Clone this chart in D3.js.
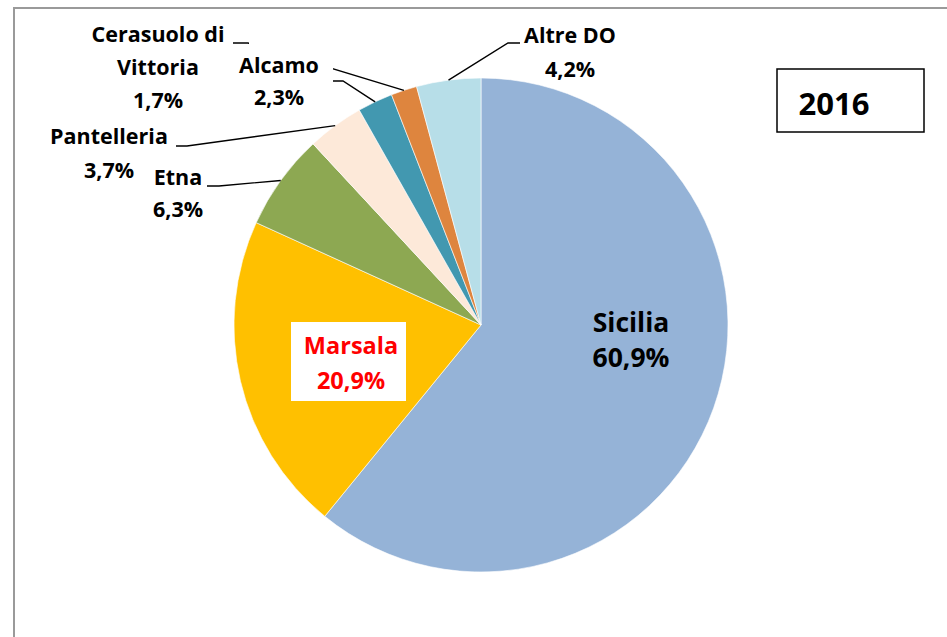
<!DOCTYPE html>
<html>
<head>
<meta charset="utf-8">
<script src="https://cdn.jsdelivr.net/npm/d3@7"></script>
<style>
  body { margin: 0; background: #fff; }
  svg text { font-family: "Open Sans", Lato, sans-serif; font-weight: bold; }
</style>
</head>
<body>
<svg id="pie"></svg>
<script>
// data
var categories = ["Sicilia", "Marsala", "Etna", "Pantelleria", "Alcamo", "Cerasuolo di Vittoria", "Altre DO"];
var values = [60.9, 20.9, 6.3, 3.7, 2.3, 1.7, 4.2];
var labelLines = [["Sicilia"], ["Marsala"], ["Etna"], ["Pantelleria"], ["Alcamo"], ["Cerasuolo di", "Vittoria"], ["Altre DO"]];
var sliceColors = ["#95b3d7", "#ffc000", "#8da852", "#fde9d9", "#4298b0", "#de853e", "#b7dee8"];
var yearLabel = "2016";

var width = 947, height = 637;
var cx = 481, cy = 325, radius = 247;

var svg = d3.select("#pie")
    .attr("width", width)
    .attr("height", height);

// chart frame (runs off the right and bottom edge)
svg.append("rect")
    .attr("x", 14).attr("y", 8)
    .attr("width", 960).attr("height", 660)
    .style("fill", "none")
    .style("stroke", "#9a9a9a")
    .style("stroke-width", 2);

var g = svg.append("g")
    .attr("transform", "translate(" + cx + "," + cy + ")");

var pie = d3.pie().sort(null).value(function(d) { return d; });
var arcs = pie(values);

var arc = d3.arc().innerRadius(0).outerRadius(radius);

g.selectAll("path.slice")
    .data(arcs)
    .enter().append("path")
    .attr("class", "slice")
    .attr("d", arc)
    .style("fill", function(d, i) { return sliceColors[i]; })
    .style("stroke", "#fff")
    .style("stroke-width", 0.6);

var fmt = function(v) { return d3.format(".1f")(v).replace(".", ",") + "%"; };

// point on the rim in the middle of a slice (page coords)
function rimPoint(d) {
  var a = (d.startAngle + d.endAngle) / 2;
  return [cx + radius * Math.sin(a), cy - radius * Math.cos(a)];
}

// label layout: text centre x, first baseline, line gap, size, leader start
var layout = [
  {x: 631, y: 332, gap: 35, size: 26.5, color: "#000"},
  {x: 351, y: 354, gap: 35, size: 23.5, color: "#ff0000", box: [291, 322, 115, 79]},
  {x: 178, y: 185, gap: 32, size: 21.5, color: "#000", lead: [[207, 186], [219, 186]]},
  {x: 109, y: 144, gap: 34, size: 21.5, color: "#000", lead: [[176, 146], [187, 146]]},
  {x: 279, y: 73, gap: 32, size: 21.5, color: "#000", lead: [[333, 81], [343, 81]], box: [249, 40, 84, 72]},
  {x: 158, y: 42, gap: 33, size: 21.5, color: "#000", lead: [[233, 43], [248, 43]]},
  {x: 570, y: 43, gap: 34, size: 21.5, color: "#000", lead: [[520, 43], [508, 43]]}
];

// leader lines
var line = d3.line();
arcs.forEach(function(d, i) {
  var L = layout[i];
  if (!L.lead) return;
  svg.append("path")
    .attr("d", line(L.lead.concat([rimPoint(d)])))
    .style("fill", "none")
    .style("stroke", "#000")
    .style("stroke-width", 1.4);
});

// label boxes
layout.forEach(function(L, i) {
  if (!L.box) return;
  svg.append("rect")
    .attr("x", L.box[0]).attr("y", L.box[1])
    .attr("width", L.box[2]).attr("height", L.box[3])
    .style("fill", "#fff");
});

// label texts
arcs.forEach(function(d, i) {
  var L = layout[i];
  var lines = labelLines[i].concat([fmt(values[i])]);
  var t = svg.append("text")
    .attr("text-anchor", "middle")
    .style("font-size", L.size + "px")
    .style("fill", L.color);
  lines.forEach(function(s, k) {
    t.append("tspan")
      .attr("x", L.x)
      .attr("y", L.y + k * L.gap)
      .text(s);
  });
});

// year box
svg.append("rect")
    .attr("x", 777).attr("y", 69)
    .attr("width", 147).attr("height", 63)
    .style("fill", "#fff")
    .style("stroke", "#000")
    .style("stroke-width", 1.5);

svg.append("text")
    .attr("x", 834).attr("y", 115)
    .attr("text-anchor", "middle")
    .style("font-size", "31px")
    .style("fill", "#000")
    .text(yearLabel);
</script>
</body>
</html>
